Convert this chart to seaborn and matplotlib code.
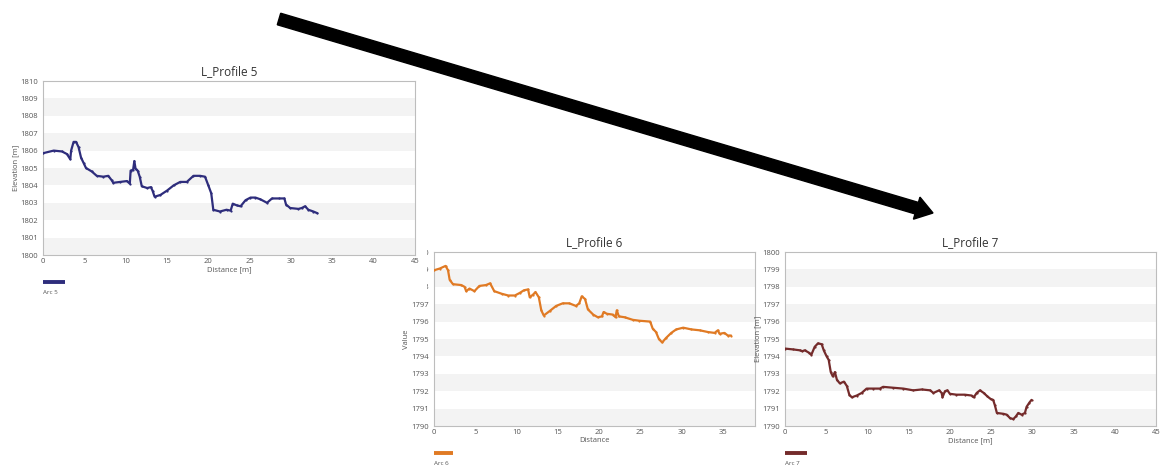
import matplotlib
matplotlib.use("Agg")
import matplotlib.pyplot as plt
import seaborn as sns
from matplotlib.ticker import MultipleLocator
from matplotlib.patches import FancyArrow, Rectangle

# profile 5 (Arc 5)
dist_5 = [0.0, 1.3, 2.3, 2.9, 3.3, 3.4, 3.7, 4.0, 4.3, 4.6, 4.9, 5.2, 5.9, 6.5, 7.3,
          7.9, 8.3, 8.5, 9.35, 10.15, 10.5, 10.6, 10.9, 11.05, 11.2, 11.45, 11.7,
          11.95, 12.6, 13.05, 13.25, 13.5, 14.2, 15.0, 15.8, 16.6, 17.4, 18.2, 19.0,
          19.6, 20.0, 20.35, 20.6, 21.4, 22.2, 22.7, 22.95, 23.45, 23.9, 24.5, 25.1,
          25.7, 26.3, 27.1, 27.7, 28.5, 29.2, 29.4, 29.9, 30.9, 31.3, 31.7, 32.1,
          32.7, 33.2]
elev_5 = [1805.85, 1806.0, 1805.95, 1805.8, 1805.5, 1806.0, 1806.5, 1806.5, 1806.2,
          1805.6, 1805.3, 1805.0, 1804.8, 1804.55, 1804.5, 1804.55, 1804.3, 1804.15,
          1804.2, 1804.25, 1804.1, 1804.85, 1804.9, 1805.4, 1804.95, 1804.85, 1804.5,
          1803.95, 1803.85, 1803.9, 1803.7, 1803.35, 1803.45, 1803.7, 1804.0, 1804.2,
          1804.2, 1804.55, 1804.55, 1804.5, 1804.0, 1803.55, 1802.6, 1802.5, 1802.6,
          1802.55, 1802.95, 1802.85, 1802.8, 1803.15, 1803.3, 1803.3, 1803.2, 1803.0,
          1803.25, 1803.25, 1803.25, 1802.9, 1802.7, 1802.65, 1802.7, 1802.8, 1802.6,
          1802.5, 1802.4]

# profile 6 (Arc 6)
dist_6 = [0.0, 0.7, 1.4, 1.7, 1.9, 2.3, 3.3, 3.7, 3.9, 4.3, 4.9, 5.5, 6.3, 6.8, 7.3,
          8.2, 9.0, 9.8, 10.4, 10.9, 11.4, 11.6, 12.0, 12.3, 12.7, 13.0, 13.3, 14.0,
          14.8, 15.6, 16.4, 17.2, 17.6, 17.9, 18.3, 18.65, 19.3, 19.85, 20.35, 20.55,
          20.95, 21.7, 22.0, 22.15, 22.4, 23.1, 24.1, 24.9, 26.2, 26.5, 26.9, 27.25,
          27.65, 28.1, 28.75, 29.35, 30.2, 31.2, 32.2, 33.2, 34.0, 34.4, 34.6, 35.2,
          35.6, 36.0]
elev_6 = [1798.95, 1799.05, 1799.2, 1798.95, 1798.4, 1798.15, 1798.1, 1798.0, 1797.75,
          1797.9, 1797.75, 1798.05, 1798.1, 1798.2, 1797.75, 1797.6, 1797.5, 1797.5,
          1797.65, 1797.8, 1797.85, 1797.4, 1797.55, 1797.7, 1797.4, 1796.65, 1796.35,
          1796.6, 1796.9, 1797.05, 1797.05, 1796.9, 1797.05, 1797.45, 1797.3, 1796.7,
          1796.4, 1796.25, 1796.3, 1796.55, 1796.45, 1796.4, 1796.25, 1796.65, 1796.3,
          1796.25, 1796.1, 1796.05, 1796.0, 1795.6, 1795.4, 1795.0, 1794.8, 1795.05,
          1795.35, 1795.55, 1795.65, 1795.55, 1795.5, 1795.4, 1795.35, 1795.5, 1795.3,
          1795.35, 1795.2, 1795.2]

# profile 7 (Arc 7)
dist_7 = [0.0, 1.0, 1.8, 2.1, 2.4, 2.95, 3.2, 3.6, 4.0, 4.45, 4.7, 5.05, 5.3, 5.55,
          5.8, 6.05, 6.3, 6.65, 7.15, 7.5, 7.8, 8.1, 8.7, 9.3, 9.9, 10.7, 11.5, 11.9,
          13.1, 14.35, 15.55, 16.6, 17.6, 18.0, 18.7, 19.0, 19.1, 19.4, 19.7, 20.0,
          20.8, 21.8, 22.65, 22.9, 23.25, 23.65, 24.1, 24.55, 24.95, 25.25, 25.45,
          25.7, 26.5, 26.9, 27.3, 27.7, 28.0, 28.3, 28.7, 29.1, 29.3, 29.65, 29.9]
elev_7 = [1794.45, 1794.4, 1794.35, 1794.3, 1794.35, 1794.2, 1794.1, 1794.55, 1794.75,
          1794.7, 1794.35, 1794.0, 1793.8, 1793.1, 1792.85, 1793.1, 1792.65, 1792.45,
          1792.55, 1792.3, 1791.8, 1791.65, 1791.75, 1791.9, 1792.15, 1792.15, 1792.15,
          1792.25, 1792.2, 1792.15, 1792.05, 1792.1, 1792.05, 1791.9, 1792.05, 1791.9,
          1791.65, 1792.0, 1792.05, 1791.85, 1791.8, 1791.8, 1791.75, 1791.65, 1791.9,
          1792.05, 1791.9, 1791.7, 1791.55, 1791.5, 1791.2, 1790.75, 1790.7, 1790.65,
          1790.45, 1790.4, 1790.55, 1790.75, 1790.65, 1790.75, 1791.1, 1791.35, 1791.5]

titles = ["L_Profile 5", "L_Profile 6", "L_Profile 7"]
xlabels = ["Distance [m]", "Distance", "Distance [m]"]
ylabels = ["Elevation [m]", "Value", "Elevation [m]"]
arcs = ["Arc 5", "Arc 6", "Arc 7"]

W, H = 1161, 465


def px_rect(left, top, right, bottom):
    # pixel box -> figure fraction
    return [left / W, 1 - bottom / H, (right - left) / W, (bottom - top) / H]


def draw_profile(ax, dist, elev, color, title, xlabel, ylabel, arc, ylim, xmax):
    for lo in range(ylim[0], ylim[1], 2):
        ax.axhspan(lo, lo + 1, color="#f3f3f3", lw=0, zorder=0)
    sns.lineplot(x=dist, y=elev, color=color, lw=1.6, marker="o", markersize=1.6,
                 markeredgewidth=0, sort=False, estimator=None, ax=ax, zorder=3)
    ax.set_xlim(0, xmax)
    ax.set_ylim(*ylim)
    ax.xaxis.set_major_locator(MultipleLocator(5))
    ax.xaxis.set_minor_locator(MultipleLocator(1))
    ax.yaxis.set_major_locator(MultipleLocator(1))
    ax.yaxis.set_minor_locator(MultipleLocator(0.2))
    ax.tick_params(axis="x", which="major", direction="in", length=5, width=0.6,
                   color="#999999", labelsize=5.5, labelcolor="#555555", pad=2)
    ax.tick_params(axis="x", which="minor", direction="in", length=3, width=0.5,
                   color="#999999")
    ax.tick_params(axis="y", which="major", direction="out", length=2.5, width=0.6,
                   color="#999999", labelsize=5.5, labelcolor="#555555", pad=1)
    ax.tick_params(axis="y", which="minor", direction="out", length=1.5, width=0.4,
                   color="#aaaaaa")
    for sp in ax.spines.values():
        sp.set_color("#bdbdbd")
        sp.set_linewidth(0.8)
    ax.set_title(title, fontsize=8.5, color="#333333", pad=4)
    ax.set_xlabel(xlabel, fontsize=5.5, color="#555555", labelpad=1)
    ax.set_ylabel(ylabel, fontsize=5.5, color="#555555", labelpad=1)
    # legend key under the x label
    ax.plot([0.0, 0.06], [-0.155, -0.155], color=color, lw=2.8,
            transform=ax.transAxes, clip_on=False, solid_capstyle="butt")
    ax.text(0.0, -0.2, arc, fontsize=4.5, color="#555555", transform=ax.transAxes,
            ha="left", va="top")


sns.set_style("white")
plt.rcParams["font.family"] = ["Open Sans", "DejaVu Sans"]

fig = plt.figure(figsize=(W / 100, H / 100), dpi=100)
fig.patch.set_facecolor("white")

ax6 = fig.add_axes(px_rect(434, 252, 755, 426))
ax6.set_zorder(0)
draw_profile(ax6, dist_6, elev_6, "#e07a24", titles[1], xlabels[1], ylabels[1],
             arcs[1], (1790, 1800), 38.9)

# the first chart's white backdrop hides the left of the second chart's labels
cover = fig.add_axes(px_rect(0, 0, 427, 298))
cover.set_zorder(1)
cover.set_axis_off()
cover.add_patch(Rectangle((0, 0), 1, 1, color="white", transform=cover.transAxes))

ax5 = fig.add_axes(px_rect(43, 81, 415, 255))
ax5.set_zorder(2)
draw_profile(ax5, dist_5, elev_5, "#2e2d7c", titles[0], xlabels[0], ylabels[0],
             arcs[0], (1800, 1810), 45)

ax7 = fig.add_axes(px_rect(785, 252, 1156, 426))
ax7.set_zorder(2)
draw_profile(ax7, dist_7, elev_7, "#742b2b", titles[2], xlabels[2], ylabels[2],
             arcs[2], (1790, 1800), 45)

# big black arrow across the top
over = fig.add_axes([0, 0, 1, 1])
over.set_zorder(5)
over.set_xlim(0, W)
over.set_ylim(H, 0)
over.set_axis_off()
over.patch.set_alpha(0)
over.add_patch(FancyArrow(279, 19, 654, 194, width=12, head_width=23, head_length=17,
                          length_includes_head=True, color="black"))

plt.savefig("out.png", dpi=100)
